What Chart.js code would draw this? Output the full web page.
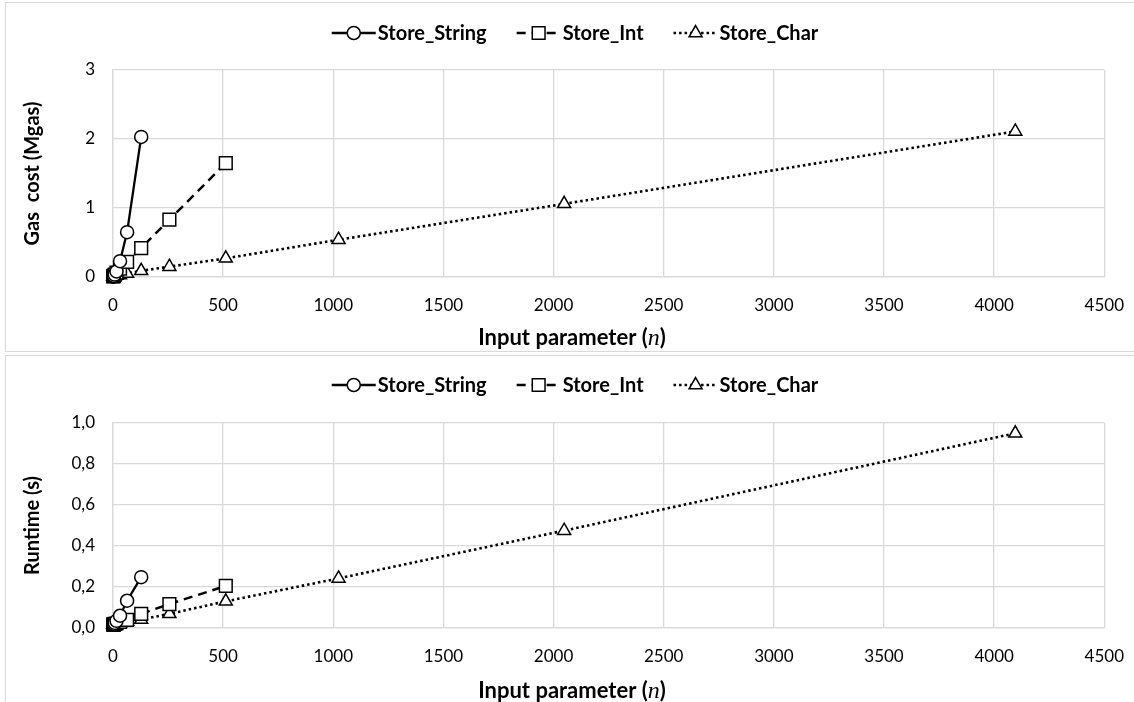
<!DOCTYPE html>
<html>
<head>
<meta charset="utf-8">
<title>Store_String / Store_Int / Store_Char</title>
<script src="https://cdn.jsdelivr.net/npm/chart.js@4.4.0/dist/chart.umd.min.js"></script>
<style>
  body { margin: 0; background: #fff; width: 1134px; height: 702px; overflow: hidden; position: relative; }
  .panel { position: absolute; left: 5px; width: 1140px; border: 1px solid #d9d9d9; box-sizing: border-box; }
  #panelGas { top: 2px; height: 350px; }
  #panelTime { top: 355px; height: 400px; }
  canvas { position: absolute; left: 7px; }
  #gasChart { top: 3px; }
  #timeChart { top: 356px; }
</style>
</head>
<body>
<div class="panel" id="panelGas"></div>
<div class="panel" id="panelTime"></div>
<canvas id="gasChart" width="1135" height="348"></canvas>
<canvas id="timeChart" width="1135" height="346"></canvas>
<script>
// input parameter n (powers of two)
var nValues = [1, 2, 4, 8, 16, 32, 64, 128, 256, 512, 1024, 2048, 4096];
var seriesNames = ['Store_String', 'Store_Int', 'Store_Char'];

// gas cost (Mgas)
var gasString = [0.004, 0.008, 0.016, 0.035, 0.08, 0.23, 0.65, 2.03];
var gasInt    = [0.01, 0.013, 0.02, 0.035, 0.065, 0.12, 0.22, 0.42, 0.83, 1.65];
var gasChar   = [0.01, 0.01, 0.012, 0.015, 0.02, 0.03, 0.05, 0.09, 0.15, 0.27, 0.54, 1.06, 2.11];

// runtime (s)
var timeString = [0.017, 0.018, 0.02, 0.025, 0.035, 0.06, 0.133, 0.248];
var timeInt    = [0.017, 0.017, 0.018, 0.02, 0.022, 0.03, 0.04, 0.069, 0.117, 0.205];
var timeChar   = [0.017, 0.017, 0.017, 0.018, 0.02, 0.025, 0.032, 0.041, 0.069, 0.13, 0.242, 0.475, 0.95];

var xTicks = { min: 0, max: 4500, step: 500 };

var FONT = 'Lato';
var GRID = '#d9d9d9';

function toPoints(values) {
  return values.map(function (v, i) { return { x: nValues[i], y: v }; });
}

function makeDatasets(a, b, c) {
  var common = {
    borderColor: '#000',
    pointBackgroundColor: '#fff',
    pointBorderColor: '#000',
    pointBorderWidth: 1.5,
    tension: 0,
    fill: false,
    clip: false
  };
  return [
    Object.assign({}, common, { label: seriesNames[0], data: toPoints(a), borderWidth: 2.3, borderDash: [], pointStyle: 'circle', pointRadius: 6.5 }),
    Object.assign({}, common, { label: seriesNames[1], data: toPoints(b), borderWidth: 2.5, borderDash: [9, 6], pointStyle: 'rect', pointRadius: 9 }),
    Object.assign({}, common, { label: seriesNames[2], data: toPoints(c), borderWidth: 2.6, borderDash: [2.5, 3], pointStyle: 'triangle', pointRadius: 7.5 })
  ];
}

// draws a marker like the excel legend sample
function drawMarker(ctx, style, r, x, y) {
  ctx.beginPath();
  if (style === 'circle') {
    ctx.arc(x, y, r, 0, Math.PI * 2);
  } else if (style === 'rect') {
    var s = r * Math.SQRT1_2;
    ctx.rect(x - s, y - s, 2 * s, 2 * s);
  } else {
    var h = Math.sqrt(3) / 2 * r;
    ctx.moveTo(x, y - r);
    ctx.lineTo(x + h, y + r / 2);
    ctx.lineTo(x - h, y + r / 2);
    ctx.closePath();
  }
  ctx.fill();
  ctx.stroke();
}

var excelLegend = {
  id: 'excelLegend',
  afterDraw: function (chart, args, opts) {
    var ctx = chart.ctx;
    var sample = 44, gapText = 2, gapItem = 30;
    ctx.save();
    ctx.font = 'bold 20px ' + FONT;
    ctx.textBaseline = 'middle';
    var items = chart.data.datasets.map(function (ds) {
      return { ds: ds, w: sample + gapText + ctx.measureText(ds.label).width };
    });
    var total = items.reduce(function (s, it) { return s + it.w; }, 0) + gapItem * (items.length - 1);
    var x = opts.centerX - total / 2;
    var y = opts.y;
    items.forEach(function (it) {
      var ds = it.ds;
      ctx.strokeStyle = '#000';
      ctx.lineWidth = ds.borderWidth;
      ctx.setLineDash(ds.borderDash);
      ctx.beginPath();
      ctx.moveTo(x, y);
      ctx.lineTo(x + sample, y);
      ctx.stroke();
      ctx.setLineDash([]);
      ctx.fillStyle = '#fff';
      ctx.lineWidth = ds.pointBorderWidth;
      drawMarker(ctx, ds.pointStyle, ds.pointRadius, x + sample / 2, y);
      ctx.fillStyle = '#000';
      ctx.fillText(ds.label, x + sample + gapText, y + 1);
      x += it.w + gapItem;
    });
    ctx.restore();
  }
};

// x axis title with italic n
var xTitle = {
  id: 'xTitle',
  afterDraw: function (chart, args, opts) {
    var ctx = chart.ctx;
    var parts = [
      { t: 'Input parameter (', f: 'bold 22px ' + FONT },
      { t: 'n', f: 'italic 24px "Liberation Serif"' },
      { t: ')', f: 'bold 22px ' + FONT }
    ];
    ctx.save();
    ctx.textBaseline = 'alphabetic';
    ctx.fillStyle = '#000';
    var w = 0;
    parts.forEach(function (p) { ctx.font = p.f; p.w = ctx.measureText(p.t).width; w += p.w; });
    var x = opts.centerX - w / 2;
    parts.forEach(function (p) {
      ctx.font = p.f;
      ctx.fillText(p.t, x, opts.y);
      x += p.w;
    });
    ctx.restore();
  }
};

function makeChart(id, datasets, yTitle, yMax, yStep, yFormat, legendY) {
  var ctx = document.getElementById(id).getContext('2d');
  return new Chart(ctx, {
    type: 'line',
    data: { datasets: datasets },
    plugins: [excelLegend, xTitle],
    options: {
      responsive: false,
      animation: false,
      layout: { padding: { left: 0, right: 20, top: 67, bottom: 0 } },
      plugins: {
        legend: { display: false },
        tooltip: { enabled: false },
        excelLegend: { centerX: 568, y: legendY },
        xTitle: { centerX: 565, y: 342 }
      },
      scales: {
        x: {
          type: 'linear',
          min: xTicks.min,
          max: xTicks.max,
          afterFit: function (scale) { scale.height = 74; },
          ticks: {
            stepSize: xTicks.step,
            color: '#000',
            padding: 18,
            font: { family: FONT, size: 17 },
            callback: function (v) { return String(v); }
          },
          grid: { color: GRID, lineWidth: 1.3, drawTicks: false },
          border: { color: GRID, width: 1.3 }
        },
        y: {
          min: 0,
          max: yMax,
          afterFit: function (scale) { scale.width = 106; },
          ticks: {
            stepSize: yStep,
            color: '#000',
            padding: 18,
            font: { family: FONT, size: 17 },
            callback: yFormat
          },
          grid: { color: GRID, lineWidth: 1.3, drawTicks: false },
          border: { color: GRID, width: 1.3 },
          title: {
            display: true,
            text: yTitle,
            color: '#000',
            padding: { top: 14, bottom: 0 },
            font: { family: FONT, size: 20, weight: 'bold' }
          }
        }
      }
    }
  });
}

makeChart('gasChart', makeDatasets(gasString, gasInt, gasChar), 'Gas  cost (Mgas)', 3, 1,
  function (v) { return String(v); }, 30);

makeChart('timeChart', makeDatasets(timeString, timeInt, timeChar), 'Runtime (s)', 1, 0.2,
  function (v) { return v.toFixed(1).replace('.', ','); }, 29);
</script>
</body>
</html>
